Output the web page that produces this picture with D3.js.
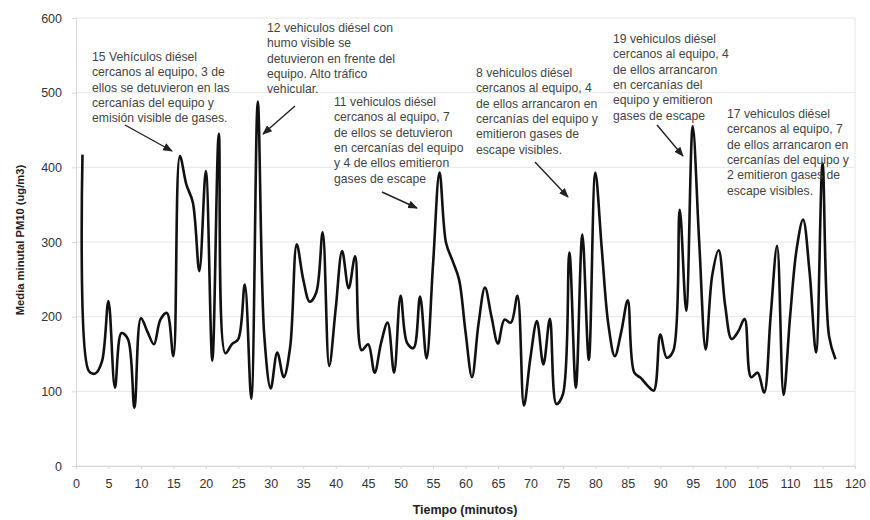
<!DOCTYPE html>
<html><head><meta charset="utf-8">
<script src="https://cdn.jsdelivr.net/npm/d3@7"></script>
<style>body{margin:0;background:#fff}svg{font-family:"Liberation Sans",Arial,sans-serif}</style>
</head><body><svg id="c" width="870" height="520"></svg>
<script>
const minutes = d3.range(1, 118);
const pm10 = [
 417,127,124,140,221,105,178,170,78,198,
 180,163,196,205,147,415,377,353,261,395,
 141,445,151,163,170,243,90,488,175,104,
 152,119,160,297,250,220,232,313,134,210,
 288,238,281,155,163,125,165,192,125,228,
 165,158,227,144,270,393,299,275,250,180,
 119,190,239,200,164,196,192,228,81,145,
 194,136,197,83,96,286,105,310,142,393,
 290,190,147,180,222,125,118,108,101,176,
 145,154,343,208,455,300,156,255,289,215,
 170,180,197,119,125,98,200,295,95,200,
 290,330,260,152,405,174,143];
const xTicks = d3.range(0, 121, 5);
const yTicks = [0,100,200,300,400,500,600];
const notes = [
 {lines:["15 Vehículos diésel","cercanos al equipo, 3 de","ellos se detuvieron en las","cercanías del equipo y","emisión visible de gases."], x:92, y:57, arrow:[125,125,172,151]},
 {lines:["12 vehiculos diésel con","humo visible se","detuvieron en frente del","equipo. Alto tráfico","vehicular."], x:267, y:28, arrow:[295,106,263,134]},
 {lines:["11 vehiculos diésel","cercanos al equipo, 7","de ellos se detuvieron","en cercanías del equipo","y 4 de ellos emitieron","gases de escape"], x:334, y:102, arrow:[382,192,417,208]},
 {lines:["8 vehiculos diésel","cercanos al equipo, 4","de ellos arrancaron en","cercanías del equipo y","emitieron gases de","escape visibles."], x:476, y:73, arrow:[535,162,568,197]},
 {lines:["19 vehiculos diésel","cercanos al equipo, 4","de ellos arrancaron","en cercanías del","equipo y emitieron","gases de escape"], x:613, y:39, arrow:[657,125,683,156]},
 {lines:["17 vehiculos diésel","cercanos al equipo, 7","de ellos arrancaron en","cercanías del equipo y","2 emitieron gases de","escape visibles."], x:727, y:114, arrow:null}
];

const svg = d3.select("#c");
const m = {l:76, r:855, t:18, b:466};
const x = d3.scaleLinear().domain([0,120]).range([m.l, m.r]);
const y = d3.scaleLinear().domain([0,600]).range([m.b, m.t]);

svg.append("defs").append("marker").attr("id","ah").attr("viewBox","0 0 10 10")
 .attr("refX",9).attr("refY",5).attr("markerWidth",7).attr("markerHeight",7).attr("orient","auto")
 .append("path").attr("d","M0,1 L10,5 L0,9 Z").attr("fill","#222");

svg.append("g").selectAll("line").data(yTicks).join("line")
 .attr("x1",m.l).attr("x2",m.r).attr("y1",d=>y(d)).attr("y2",d=>y(d))
 .attr("stroke","#e6e6e6").attr("stroke-width",1);
svg.append("line").attr("x1",m.r).attr("x2",m.r).attr("y1",m.t).attr("y2",m.b).attr("stroke","#e6e6e6");

const xAxis = svg.append("g").attr("transform",`translate(0,${m.b})`)
 .call(d3.axisBottom(x).tickValues(xTicks).tickSize(3).tickPadding(10).tickFormat(d3.format("d")));
const yAxis = svg.append("g").attr("transform",`translate(${m.l},0)`)
 .call(d3.axisLeft(y).tickValues(yTicks).tickSize(4).tickPadding(10).tickFormat(d3.format("d")));
[xAxis,yAxis].forEach(a=>{
 a.select(".domain").attr("stroke","#d8d8d8");
 a.selectAll(".tick line").attr("stroke","#d8d8d8");
 a.selectAll(".tick text").attr("fill","#333").style("font-size","12.5px").style("font-family","Liberation Sans, Arial, sans-serif");
});

const line = d3.line().x((d,i)=>x(minutes[i])).y(d=>y(d)).curve(d3.curveCatmullRom.alpha(0.5));
svg.append("path").datum(pm10).attr("d",line).attr("fill","none").attr("stroke","#111").attr("stroke-width",2.6).attr("stroke-linejoin","round");

notes.forEach(n=>{
 const t = svg.append("text").attr("fill","#444").style("font-size","12.2px");
 n.lines.forEach((s,i)=>t.append("tspan").attr("x",n.x).attr("y",n.y+4+i*15.3).text(s));
 if(n.arrow){
  svg.append("line").attr("x1",n.arrow[0]).attr("y1",n.arrow[1]).attr("x2",n.arrow[2]).attr("y2",n.arrow[3])
   .attr("stroke","#222").attr("stroke-width",1.4).attr("marker-end","url(#ah)");
 }
});

svg.append("text").attr("x",465).attr("y",514).attr("text-anchor","middle").attr("fill","#222")
 .style("font-weight","bold").style("font-size","12.5px").text("Tiempo (minutos)");
svg.append("text").attr("transform","translate(24,240) rotate(-90)").attr("text-anchor","middle").attr("fill","#222")
 .style("font-weight","bold").style("font-size","11.2px").text("Media minutal PM10 (ug/m3)");
</script></body></html>
